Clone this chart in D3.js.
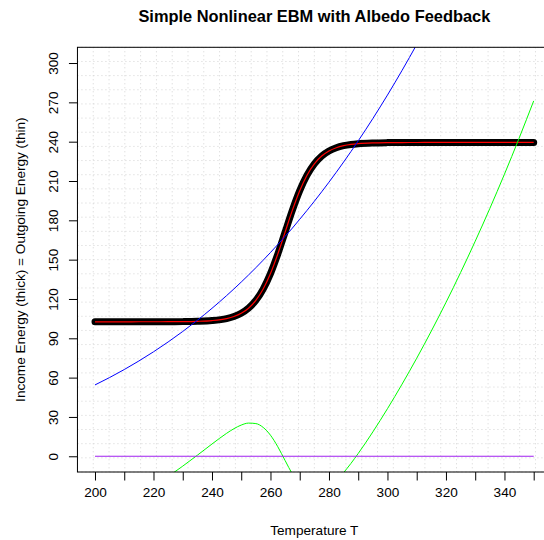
<!DOCTYPE html>
<html>
<head>
<meta charset="utf-8">
<title>Simple Nonlinear EBM with Albedo Feedback</title>
<style>
  body { margin: 0; background: #fff; }
  svg { display: block; font-family: "Liberation Sans", Arial, Helvetica, sans-serif; }
</style>
</head>
<body>
<script src="https://cdn.jsdelivr.net/npm/d3@7"></script>
<script>
// DATA
var temperature = [200, 205, 210, 215, 220, 225, 230, 235, 240, 245, 247.5, 250, 252.5, 255,
  257.5, 260, 262.5, 265, 267.5, 270, 272.5, 275, 277.5, 280, 282.5, 285, 287.5, 290,
  295, 300, 305, 310, 315, 320, 325, 330, 335, 340, 345, 350];

// incoming energy (thick black + thin red)
var incoming = [102.6, 102.6, 102.6, 102.61, 102.62, 102.65, 102.72, 102.94, 103.52, 105.06, 106.61, 109.09, 112.98, 118.91,
  127.56, 139.39, 154.25, 171.0, 187.75, 202.61, 214.44, 223.09, 229.02, 232.91, 235.39, 236.94, 237.9, 238.48,
  239.06, 239.28, 239.35, 239.38, 239.4, 239.4, 239.4, 239.4, 239.4, 239.4, 239.4, 239.4];

// outgoing energy (blue)
var outgoing = [54.43, 60.08, 66.16, 72.69, 79.69, 87.19, 95.2, 103.75, 112.87, 122.57, 127.65, 132.89, 138.29, 143.85,
  149.57, 155.46, 161.53, 167.77, 174.12, 180.8, 187.59, 194.56, 201.74, 209.11, 216.67, 224.45, 232.43, 240.62,
  257.65, 275.56, 294.4, 314.18, 334.95, 356.73, 379.55, 403.45, 428.46, 454.62, 481.96, 510.51];

// outgoing minus incoming (green)
var net = [-48.17, -42.52, -36.44, -29.92, -22.93, -15.46, -7.52, 0.81, 9.35, 17.51, 21.04, 23.8, 25.31, 24.94,
  22.01, 16.07, 7.28, -3.23, -13.63, -21.81, -26.85, -28.53, -27.28, -23.8, -18.72, -12.49, -5.47, 2.14,
  18.59, 36.28, 55.05, 74.8, 95.55, 117.33, 140.15, 164.05, 189.06, 215.22, 242.56, 271.11];

var xTicks = [200, 210, 220, 230, 240, 250, 260, 270, 280, 290, 300, 310, 320, 330, 340, 350];
var yTicks = [0, 30, 60, 90, 120, 150, 180, 210, 240, 270, 300];

var W = 544, H = 540;
var pLeft = 77.45, pRight = 551.25, pTop = 47.3, pBottom = 472;

var x = d3.scaleLinear().domain([194, 356]).range([pLeft, pRight]);
var y = d3.scaleLinear().domain([-12, 312]).range([pBottom, pTop]);

var svg = d3.select("body").append("svg")
  .attr("width", W)
  .attr("height", H);

svg.append("defs").append("clipPath")
  .attr("id", "plotclip")
  .append("rect")
  .attr("x", pLeft).attr("y", pTop)
  .attr("width", pRight - pLeft).attr("height", pBottom - pTop);

// grid: 30 equal cells each way
var grid = svg.append("g").attr("class", "grid");
var gx = d3.range(31).map(function(i) { return 194 + i * 162 / 30; });
var gy = d3.range(31).map(function(i) { return -12 + i * 324 / 30; });
grid.selectAll("line.v").data(gx).enter().append("line")
  .attr("class", "v")
  .attr("x1", function(d) { return x(d); }).attr("x2", function(d) { return x(d); })
  .attr("y1", pTop).attr("y2", pBottom);
grid.selectAll("line.h").data(gy).enter().append("line")
  .attr("class", "h")
  .attr("y1", function(d) { return y(d); }).attr("y2", function(d) { return y(d); })
  .attr("x1", pLeft).attr("x2", pRight);
grid.selectAll("line")
  .attr("stroke", "#d3d3d3")
  .attr("stroke-width", 1)
  .attr("stroke-dasharray", "1,3");

var plot = svg.append("g").attr("clip-path", "url(#plotclip)");

var pts = function(vals) {
  return temperature.map(function(t, i) { return [t, vals[i]]; });
};
var line = d3.line()
  .x(function(d) { return x(d[0]); })
  .y(function(d) { return y(d[1]); })
  .curve(d3.curveMonotoneX);

plot.append("path")
  .datum(pts(incoming))
  .attr("d", line)
  .attr("fill", "none")
  .attr("stroke", "#000")
  .attr("stroke-width", 7)
  .attr("stroke-linecap", "round")
  .attr("stroke-linejoin", "round");

plot.append("path")
  .datum(pts(incoming))
  .attr("d", line)
  .attr("fill", "none")
  .attr("stroke", "#ff0000")
  .attr("stroke-width", 1.2);

plot.append("path")
  .datum(pts(outgoing))
  .attr("d", line)
  .attr("fill", "none")
  .attr("stroke", "#0000ff")
  .attr("stroke-width", 1);

plot.append("path")
  .datum(pts(net))
  .attr("d", line)
  .attr("fill", "none")
  .attr("stroke", "#00ff00")
  .attr("stroke-width", 1);

plot.append("path")
  .datum(pts(temperature.map(function() { return 0; })))
  .attr("d", line)
  .attr("fill", "none")
  .attr("stroke", "#a020f0")
  .attr("stroke-width", 1.2);

// box
svg.append("rect")
  .attr("x", pLeft).attr("y", pTop)
  .attr("width", pRight - pLeft).attr("height", pBottom - pTop)
  .attr("fill", "none")
  .attr("stroke", "#000")
  .attr("stroke-width", 1);

// axes
var xAxis = d3.axisBottom(x)
  .tickValues(xTicks)
  .tickSize(8.5)
  .tickPadding(7)
  .tickFormat(function(d) { return d % 20 === 0 ? d : ""; });
var gX = svg.append("g")
  .attr("transform", "translate(0," + pBottom + ")")
  .call(xAxis);
gX.select(".domain").remove();

var yAxis = d3.axisLeft(y)
  .tickValues(yTicks)
  .tickSize(8.5);
var gY = svg.append("g")
  .attr("transform", "translate(" + pLeft + ",0)")
  .call(yAxis);
gY.select(".domain").remove();
gY.selectAll(".tick text")
  .attr("transform", "rotate(-90)")
  .attr("x", 0)
  .attr("y", -19.5)
  .attr("dy", 0)
  .attr("text-anchor", "middle");

svg.selectAll(".tick text")
  .attr("font-size", 13.6)
  .attr("font-family", "Liberation Sans, Arial, sans-serif")
  .attr("fill", "#000");
svg.selectAll(".tick line").attr("stroke", "#000");

// titles
svg.append("text")
  .attr("x", (pLeft + pRight) / 2)
  .attr("y", 21.5)
  .attr("text-anchor", "middle")
  .attr("font-size", 16.4)
  .attr("font-weight", "bold")
  .text("Simple Nonlinear EBM with Albedo Feedback");

svg.append("text")
  .attr("x", (pLeft + pRight) / 2)
  .attr("y", 535)
  .attr("text-anchor", "middle")
  .attr("font-size", 13.6)
  .text("Temperature T");

svg.append("text")
  .attr("transform", "translate(25," + (pTop + pBottom) / 2 + ") rotate(-90)")
  .attr("text-anchor", "middle")
  .attr("font-size", 13.6)
  .text("Income Energy (thick) = Outgoing Energy (thin)");
</script>
</body>
</html>
